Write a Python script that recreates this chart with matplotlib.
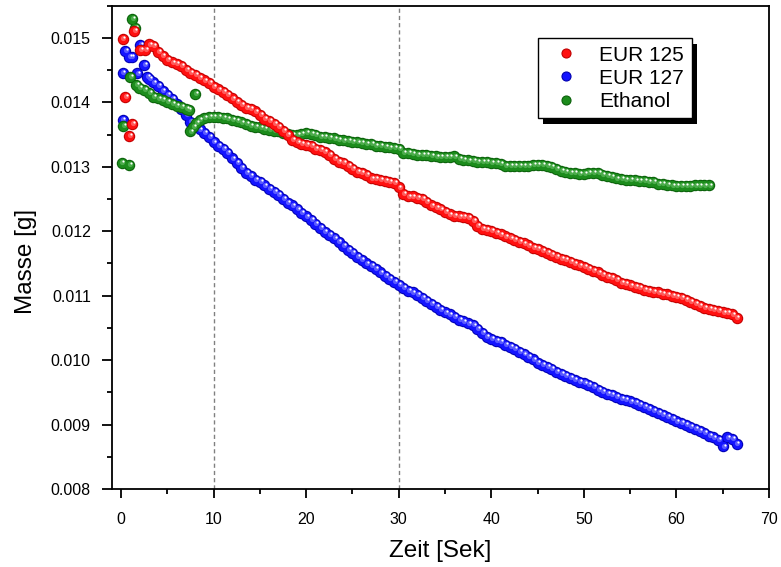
import matplotlib
matplotlib.use('Agg')
import matplotlib.pyplot as plt
from matplotlib.transforms import offset_copy, IdentityTransform
from matplotlib.lines import Line2D
from matplotlib.patches import Rectangle
from matplotlib.ticker import MultipleLocator, FormatStrFormatter

plt.rcParams['font.family'] = ['Liberation Sans', 'DejaVu Sans']

# ---------------- data ----------------
series_names = ['EUR 125', 'EUR 127', 'Ethanol']

# shared time grid for the main part of EUR 125 / EUR 127 (s)
t_main = [3.0, 3.5, 4.0, 4.5, 5.0, 5.5, 6.0, 6.5, 7.0, 7.5,
          8.0, 8.5, 9.0, 9.5, 10.0, 10.5, 11.0, 11.5, 12.0, 12.5,
          13.0, 13.5, 14.0, 14.5, 15.0, 15.5, 16.0, 16.5, 17.0, 17.5,
          18.0, 18.5, 19.0, 19.5, 20.0, 20.5, 21.0, 21.5, 22.0, 22.5,
          23.0, 23.5, 24.0, 24.5, 25.0, 25.5, 26.0, 26.5, 27.0, 27.5,
          28.0, 28.5, 29.0, 29.5, 30.0, 30.5, 31.0, 31.5, 32.0, 32.5,
          33.0, 33.5, 34.0, 34.5, 35.0, 35.5, 36.0, 36.5, 37.0, 37.5,
          38.0, 38.5, 39.0, 39.5, 40.0, 40.5, 41.0, 41.5, 42.0, 42.5,
          43.0, 43.5, 44.0, 44.5, 45.0, 45.5, 46.0, 46.5, 47.0, 47.5,
          48.0, 48.5, 49.0, 49.5, 50.0, 50.5, 51.0, 51.5, 52.0, 52.5,
          53.0, 53.5, 54.0, 54.5, 55.0, 55.5, 56.0, 56.5, 57.0, 57.5,
          58.0, 58.5, 59.0, 59.5, 60.0, 60.5, 61.0, 61.5, 62.0, 62.5,
          63.0, 63.5, 64.0, 64.5, 65.0, 65.5, 66.0, 66.5]

# EUR 125
red_t0 = [0.18, 0.43, 0.87, 1.22, 1.44, 2.05, 2.6]
red_m0 = [0.01498, 0.01409, 0.01348, 0.01366, 0.01511, 0.01482, 0.01481]
red_m = [0.01490, 0.01488, 0.01478, 0.01472, 0.01466, 0.01462, 0.01460, 0.01456, 0.01450, 0.01446,
         0.01442, 0.01438, 0.01434, 0.01430, 0.01424, 0.01420, 0.01416, 0.01411, 0.01406, 0.01401,
         0.01396, 0.01391, 0.01390, 0.01386, 0.01380, 0.01374, 0.01371, 0.01366, 0.01362, 0.01356,
         0.01350, 0.01342, 0.01338, 0.01336, 0.01334, 0.01332, 0.01328, 0.01326, 0.01323, 0.01318,
         0.01312, 0.01308, 0.01306, 0.01302, 0.01297, 0.01292, 0.01290, 0.01288, 0.01282, 0.01281,
         0.01280, 0.01278, 0.01277, 0.01275, 0.01268, 0.01258, 0.01254, 0.01254, 0.01252, 0.01250,
         0.01246, 0.01240, 0.01237, 0.01234, 0.01230, 0.01226, 0.01224, 0.01223, 0.01222, 0.01221,
         0.01216, 0.01208, 0.01204, 0.01202, 0.01200, 0.01198, 0.01195, 0.01192, 0.01189, 0.01186,
         0.01184, 0.01181, 0.01178, 0.01174, 0.01172, 0.01169, 0.01166, 0.01163, 0.01160, 0.01157,
         0.01155, 0.01152, 0.01149, 0.01147, 0.01145, 0.01142, 0.01139, 0.01136, 0.01132, 0.01129,
         0.01128, 0.01124, 0.01120, 0.01118, 0.01116, 0.01114, 0.01112, 0.01109, 0.01108, 0.01106,
         0.01105, 0.01103, 0.01102, 0.01100, 0.01098, 0.01096, 0.01093, 0.01090, 0.01087, 0.01084,
         0.01081, 0.01079, 0.01078, 0.01076, 0.01074, 0.01073, 0.01071, 0.01066]

# EUR 127
blue_t0 = [0.18, 0.18, 0.43, 0.9, 1.15, 1.7, 2.05, 2.5, 2.8]
blue_m0 = [0.01373, 0.01446, 0.01480, 0.01471, 0.01470, 0.01445, 0.01489, 0.01458, 0.01440]
blue_m = [0.01437, 0.01431, 0.01425, 0.01418, 0.01411, 0.01405, 0.01398, 0.01389, 0.01380, 0.01370,
          0.01364, 0.01358, 0.01353, 0.01347, 0.01338, 0.01333, 0.01328, 0.01321, 0.01313, 0.01306,
          0.01298, 0.01291, 0.01286, 0.01280, 0.01276, 0.01271, 0.01266, 0.01261, 0.01256, 0.01250,
          0.01244, 0.01240, 0.01234, 0.01229, 0.01223, 0.01217, 0.01211, 0.01205, 0.01199, 0.01194,
          0.01189, 0.01183, 0.01177, 0.01171, 0.01166, 0.01160, 0.01155, 0.01150, 0.01146, 0.01141,
          0.01136, 0.01131, 0.01126, 0.01121, 0.01117, 0.01112, 0.01108, 0.01105, 0.01101, 0.01097,
          0.01092, 0.01087, 0.01082, 0.01078, 0.01074, 0.01071, 0.01067, 0.01063, 0.01060, 0.01057,
          0.01054, 0.01049, 0.01042, 0.01036, 0.01033, 0.01030, 0.01028, 0.01024, 0.01020, 0.01017,
          0.01013, 0.01009, 0.01005, 0.01001, 0.00996, 0.00993, 0.00989, 0.00986, 0.00982, 0.00978,
          0.00975, 0.00972, 0.00969, 0.00966, 0.00964, 0.00961, 0.00958, 0.00954, 0.00951, 0.00948,
          0.00946, 0.00943, 0.00940, 0.00938, 0.00936, 0.00933, 0.00930, 0.00927, 0.00924, 0.00921,
          0.00918, 0.00915, 0.00912, 0.00909, 0.00905, 0.00902, 0.00899, 0.00896, 0.00893, 0.00890,
          0.00887, 0.00883, 0.00880, 0.00876, 0.00866, 0.00880, 0.00878, 0.00870]

# Ethanol
green_t0 = [0.07, 0.25, 0.9, 1.0, 1.23, 1.5,
            1.6, 2.0, 2.5, 3.0, 3.5, 4.0, 4.5, 5.0, 5.5, 6.0, 6.5, 7.0, 7.3,
            8.0, 7.5, 7.8, 8.1, 8.5, 9.0, 9.5, 10.0]
green_m0 = [0.01306, 0.01363, 0.01303, 0.01440, 0.01530, 0.01515,
            0.01427, 0.01423, 0.01419, 0.01415, 0.01409, 0.01406, 0.01404, 0.01401, 0.01398,
            0.01395, 0.01393, 0.01390, 0.01388,
            0.01413, 0.01355, 0.01362, 0.01368, 0.01373, 0.01376, 0.01378, 0.01378]
green_t = [10.5, 11.0, 11.5, 12.0, 12.5, 13.0, 13.5, 14.0, 14.5, 15.0,
           15.5, 16.0, 16.5, 17.0, 17.5, 18.0, 18.5, 19.0, 19.5, 20.0,
           20.5, 21.0, 21.5, 22.0, 22.5, 23.0, 23.5, 24.0, 24.5, 25.0,
           25.5, 26.0, 26.5, 27.0, 27.5, 28.0, 28.5, 29.0, 29.5, 30.0,
           30.5, 31.0, 31.5, 32.0, 32.5, 33.0, 33.5, 34.0, 34.5, 35.0,
           35.5, 36.0, 36.5, 37.0, 37.5, 38.0, 38.5, 39.0, 39.5, 40.0,
           40.5, 41.0, 41.5, 42.0, 42.5, 43.0, 43.5, 44.0, 44.5, 45.0,
           45.5, 46.0, 46.5, 47.0, 47.5, 48.0, 48.5, 49.0, 49.5, 50.0,
           50.5, 51.0, 51.5, 52.0, 52.5, 53.0, 53.5, 54.0, 54.5, 55.0,
           55.5, 56.0, 56.5, 57.0, 57.5, 58.0, 58.5, 59.0, 59.5, 60.0,
           60.5, 61.0, 61.5, 62.0, 62.5, 63.0, 63.5]
green_m = [0.01377, 0.01376, 0.01375, 0.01373, 0.01371, 0.01369, 0.01367, 0.01364, 0.01362, 0.01361,
           0.01359, 0.01357, 0.01356, 0.01355, 0.01353, 0.01351, 0.01350, 0.01350, 0.01351, 0.01352,
           0.01351, 0.01349, 0.01347, 0.01346, 0.01345, 0.01344, 0.01342, 0.01341, 0.01340, 0.01339,
           0.01338, 0.01337, 0.01336, 0.01335, 0.01333, 0.01332, 0.01331, 0.01330, 0.01329, 0.01328,
           0.01322, 0.01321, 0.01320, 0.01319, 0.01318, 0.01318, 0.01317, 0.01316, 0.01315, 0.01315,
           0.01315, 0.01316, 0.01312, 0.01311, 0.01310, 0.01309, 0.01308, 0.01308, 0.01307, 0.01306,
           0.01306, 0.01305, 0.01302, 0.01301, 0.01301, 0.01301, 0.01302, 0.01302, 0.01303, 0.01303,
           0.01303, 0.01302, 0.01300, 0.01297, 0.01294, 0.01292, 0.01291, 0.01290, 0.01289, 0.01289,
           0.01290, 0.01291, 0.01290, 0.01288, 0.01286, 0.01284, 0.01282, 0.01281, 0.01280, 0.01280,
           0.01279, 0.01278, 0.01278, 0.01277, 0.01276, 0.01274, 0.01273, 0.01272, 0.01271, 0.01270,
           0.01270, 0.01270, 0.01270, 0.01271, 0.01271, 0.01271, 0.01271]

x_ticks_major = [0, 10, 20, 30, 40, 50, 60, 70]
marked_times = [10, 30]

# ---------------- figure ----------------
W, H = 781, 567
fig = plt.figure(figsize=(W / 100, H / 100), dpi=100)
ax = fig.add_axes([111.7 / W, 1 - 489 / H, (769 - 111.7) / W, (489 - 5.7) / H])

ax.set_xlim(-1.0, 70)
ax.set_ylim(0.008, 0.0155)

for xv in marked_times:
    ax.axvline(xv, color='#808080', lw=1.0, ls=(0, (3, 2.2)), zorder=0.5)

def spheres(t, m, dark, mid, light, z):
    ax.scatter(t, m, s=68, c=dark, linewidths=0, zorder=z)
    ax.scatter(t, m, s=46, c=mid, linewidths=0, zorder=z + 0.1)
    tr1 = offset_copy(ax.transData, fig=fig, x=0.6, y=0.6, units='points')
    ax.scatter(t, m, s=14, c=light, linewidths=0, zorder=z + 0.2, transform=tr1)
    tr2 = offset_copy(ax.transData, fig=fig, x=1.3, y=1.3, units='points')
    ax.scatter(t, m, s=2.4, c='white', linewidths=0, zorder=z + 0.3, transform=tr2)

colors = {
    'EUR 125': ('#c00000', '#ff1010', '#ff5a5a'),
    'EUR 127': ('#0000b0', '#1414ff', '#5a5aff'),
    'Ethanol': ('#0a600a', '#1c8c1c', '#4cac4c'),
}

spheres(blue_t0 + t_main, blue_m0 + blue_m, *colors['EUR 127'], z=2)
spheres(green_t0 + green_t, green_m0 + green_m, *colors['Ethanol'], z=3)
spheres(red_t0 + t_main, red_m0 + red_m, *colors['EUR 125'], z=4)

# axes styling
ax.xaxis.set_major_locator(MultipleLocator(10))
ax.xaxis.set_minor_locator(MultipleLocator(5))
ax.yaxis.set_major_locator(MultipleLocator(0.001))
ax.yaxis.set_minor_locator(MultipleLocator(0.0005))
ax.yaxis.set_major_formatter(FormatStrFormatter('%.3f'))
ax.set_xticks(x_ticks_major)
ax.tick_params(axis='both', which='both', direction='out', top=False, right=False,
               width=1.3, colors='black', labelsize=11.5)
ax.tick_params(axis='y', which='major', length=7, pad=8)
ax.tick_params(axis='y', which='minor', length=3.5)
ax.tick_params(axis='x', which='major', length=6.5, pad=10)
ax.tick_params(axis='x', which='minor', length=3.5)
for sp in ax.spines.values():
    sp.set_linewidth(1.3)

ax.set_xlabel('Zeit [Sek]', fontsize=17.5)
ax.set_ylabel('Masse [g]', fontsize=17.5)
ax.xaxis.set_label_coords(0.5, -0.105)
ax.xaxis.label.set_va('top')
ax.yaxis.set_label_coords(-0.131, 0.47)
ax.yaxis.label.set_va('center')
ax.yaxis.label.set_ha('center')

# legend
handles = [Line2D([], [], ls='none', marker='o', markersize=6.5,
                  markerfacecolor=colors[n][1], markeredgecolor=colors[n][0], markeredgewidth=0.8)
           for n in series_names]
leg = ax.legend(handles, series_names, loc='upper left',
                bbox_to_anchor=((538 - 111.7) / (769 - 111.7), (489 - 38.3) / (489 - 5.7)),
                borderaxespad=0, fontsize=15, frameon=True, fancybox=False, framealpha=1,
                edgecolor='black', borderpad=0.35, handlelength=2.0, handletextpad=0.6,
                labelspacing=0.2)
leg.get_frame().set_linewidth(1.0)
leg.set_zorder(10)

fig.canvas.draw()
bb = leg.get_window_extent()
shadow = Rectangle((bb.x0 + 5, bb.y0 - 6), bb.width, bb.height, transform=IdentityTransform(),
                   facecolor='black', edgecolor='none', zorder=9.5, clip_on=False)
ax.add_patch(shadow)

fig.savefig('out.png', dpi=100)
